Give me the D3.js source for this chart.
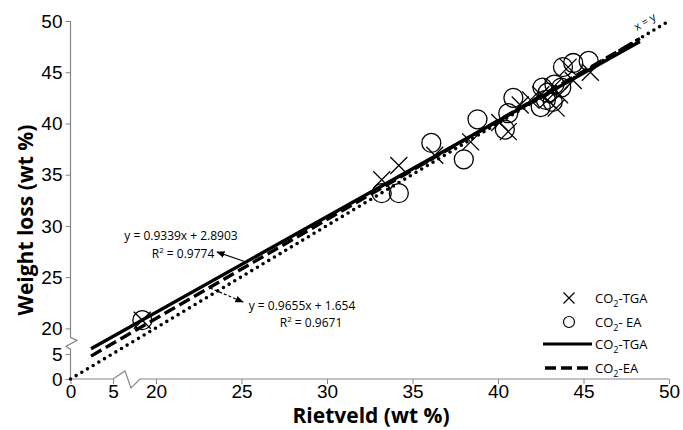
<!DOCTYPE html>
<html>
<head>
<meta charset="utf-8">
<script src="https://cdn.jsdelivr.net/npm/d3@7"></script>
<style>
  body { margin: 0; background: #fff; }
  svg { font-family: "Open Sans", "Noto Sans", sans-serif; }
</style>
</head>
<body>
<div id="chart"></div>
<script>
// tick values (axis is broken between 5 and 17.5 on both axes)
const xTicks = [0, 5, 20, 25, 30, 35, 40, 45, 50];
const yTicks = [0, 5, 20, 25, 30, 35, 40, 45, 50];

// CO2-TGA points (Rietveld, weight loss)
const tgaX = [19.2, 33.2, 34.2, 36.3, 38.4, 40.1, 40.6, 41.3, 41.9, 42.5, 42.9, 43.2, 43.4, 43.6, 44.1, 44.4, 45.4];
const tgaY = [20.8, 34.5, 35.9, 36.9, 38.2, 40.1, 39.2, 41.8, 42.3, 42.8, 42.3, 43.5, 41.5, 42.8, 45.5, 44.2, 45.0];

// CO2-EA points
const eaX = [19.2, 33.2, 34.2, 36.1, 38.0, 38.8, 40.4, 40.6, 40.9, 42.5, 42.6, 42.8, 42.9, 43.2, 43.3, 43.7, 43.8, 44.4, 45.3];
const eaY = [20.8, 33.2, 33.2, 38.1, 36.5, 40.4, 39.4, 41.0, 42.5, 41.6, 43.5, 42.3, 43.0, 42.1, 43.8, 43.5, 45.5, 45.9, 46.1];

// linear fits
const fitNames = ['CO2-TGA', 'CO2-EA'];
const fitSlope = [0.9339, 0.9655];
const fitIntercept = [2.8903, 1.654];
const fitR2 = [0.9774, 0.9671];
const fitFrom = 16.2, fitTo = 48.3;

// x = y reference
const identity = [[0, 0], [50, 50]];

const width = 683, height = 430;
const svg = d3.select('#chart').append('svg')
  .attr('width', width).attr('height', height);

// piecewise scales: 0-5 compressed, 5-17.5 collapsed by the break
const x = d3.scaleLinear().domain([0, 5, 17.5, 50]).range([70.5, 113, 113.25, 669]);
const y = d3.scaleLinear().domain([0, 5, 17.5, 50]).range([379, 354, 354, 21]);
// continuous upper scales, used for the fit lines that run into the break
const xFit = d3.scaleLinear().domain([17.5, 50]).range([113.25, 669]);
const yFit = d3.scaleLinear().domain([17.5, 50]).range([354, 21]);

const axisCol = '#868686';

// axis lines with break marks
const xa = x(0), ya = y(0);
svg.append('path')
  .attr('d', `M${xa},${y(50)}V${y(20) + 9}l6.5,3l-11,6l4.5,3V${ya}`)
  .attr('fill', 'none').attr('stroke', axisCol).attr('stroke-width', 1.2);
svg.append('path')
  .attr('d', `M${xa},${ya}H${x(5)}l12,-8l6,17l9,-9H${x(50)}`)
  .attr('fill', 'none').attr('stroke', axisCol).attr('stroke-width', 1.2);

const yAxis = d3.axisLeft(y).tickValues(yTicks).tickSize(5).tickPadding(3);
const gy = svg.append('g').attr('transform', `translate(${xa},0)`).call(yAxis);
gy.select('.domain').remove();
gy.selectAll('line').attr('stroke', axisCol);
gy.selectAll('text').style('font-size', '19px').attr('fill', '#000');

const xAxis = d3.axisBottom(x).tickValues(xTicks).tickSize(5).tickPadding(1);
const gx = svg.append('g').attr('transform', `translate(0,${ya})`).call(xAxis);
gx.select('.domain').remove();
gx.selectAll('line').attr('stroke', axisCol);
gx.selectAll('text').style('font-size', '19px').attr('fill', '#000');

// axis titles
svg.append('text')
  .attr('x', 371).attr('y', 423)
  .attr('text-anchor', 'middle')
  .style('font-size', '21px').style('font-weight', 'bold')
  .text('Rietveld (wt %)');
svg.append('text')
  .attr('transform', 'translate(33,220) rotate(-90)')
  .attr('text-anchor', 'middle')
  .style('font-size', '21px').style('font-weight', 'bold')
  .text('Weight loss (wt %)');

// x = y dotted line
svg.append('path')
  .datum(identity)
  .attr('d', d3.line().x(d => x(d[0])).y(d => y(d[1])))
  .attr('fill', 'none').attr('stroke', '#000')
  .attr('stroke-width', 3.6).attr('stroke-linecap', 'round')
  .attr('stroke-dasharray', '0,6.6');
svg.append('text')
  .attr('transform', `translate(${x(48.7)},${y(49.6)}) rotate(-31)`)
  .attr('text-anchor', 'middle')
  .style('font-size', '11px')
  .text('x = y');

// fit lines
const fitDash = [null, '12,5'];
fitNames.forEach((n, i) => {
  const pts = [fitFrom, fitTo].map(v => [v, fitSlope[i] * v + fitIntercept[i]]);
  svg.append('path')
    .datum(pts)
    .attr('d', d3.line().x(d => xFit(d[0])).y(d => yFit(d[1])))
    .attr('fill', 'none').attr('stroke', '#000')
    .attr('stroke-width', 3.4)
    .attr('stroke-dasharray', fitDash[i]);
});

// markers
const cross = s => `M${-s},${-s}L${s},${s}M${-s},${s}L${s},${-s}`;
svg.append('g').selectAll('path')
  .data(tgaX.map((v, i) => [v, tgaY[i]]))
  .join('path')
  .attr('transform', d => `translate(${x(d[0])},${y(d[1])})`)
  .attr('d', cross(8.5))
  .attr('stroke', '#000').attr('stroke-width', 1.3).attr('fill', 'none');
svg.append('g').selectAll('circle')
  .data(eaX.map((v, i) => [v, eaY[i]]))
  .join('circle')
  .attr('cx', d => x(d[0])).attr('cy', d => y(d[1]))
  .attr('r', 9.5)
  .attr('stroke', '#000').attr('stroke-width', 1.3).attr('fill', 'none');

// equation annotations
svg.append('defs').append('marker')
  .attr('id', 'head').attr('viewBox', '0 0 10 10')
  .attr('refX', 9).attr('refY', 5)
  .attr('markerWidth', 7).attr('markerHeight', 7)
  .attr('orient', 'auto')
  .append('path').attr('d', 'M0,1L10,5L0,9z').attr('fill', '#000');

const ann = svg.append('g').style('font-size', '12px');
ann.append('text').attr('x', 181).attr('y', 240).attr('text-anchor', 'middle')
  .text(`y = ${fitSlope[0]}x + ${fitIntercept[0]}`);
const r1 = ann.append('text').attr('x', 183).attr('y', 258).attr('text-anchor', 'middle');
r1.append('tspan').text('R');
r1.append('tspan').attr('dy', -5).style('font-size', '8px').text('2');
r1.append('tspan').attr('dy', 5).text(` = ${fitR2[0]}`);

ann.append('text').attr('x', 302).attr('y', 310).attr('text-anchor', 'middle')
  .text(`y = ${fitSlope[1]}x + ${fitIntercept[1]}`);
const r2 = ann.append('text').attr('x', 311).attr('y', 327).attr('text-anchor', 'middle');
r2.append('tspan').text('R');
r2.append('tspan').attr('dy', -5).style('font-size', '8px').text('2');
r2.append('tspan').attr('dy', 5).text(` = ${fitR2[1]}`);

svg.append('line')
  .attr('x1', 246).attr('y1', 262).attr('x2', 217).attr('y2', 252)
  .attr('stroke', '#000').attr('stroke-width', 1.2)
  .attr('marker-end', 'url(#head)');
svg.append('line')
  .attr('x1', 210).attr('y1', 288).attr('x2', 243).attr('y2', 302)
  .attr('stroke', '#000').attr('stroke-width', 1.2)
  .attr('stroke-dasharray', '3,2')
  .attr('marker-end', 'url(#head)');

// legend
const legRows = [298, 322, 344, 368];
const leg = svg.append('g').style('font-size', '13px');
leg.append('path').attr('transform', `translate(569,${legRows[0]})`)
  .attr('d', cross(5.5)).attr('stroke', '#000').attr('stroke-width', 1.2);
leg.append('circle').attr('cx', 569).attr('cy', legRows[1]).attr('r', 5.5)
  .attr('fill', 'none').attr('stroke', '#000').attr('stroke-width', 1.2);
leg.append('line').attr('x1', 543).attr('x2', 592).attr('y1', legRows[2]).attr('y2', legRows[2])
  .attr('stroke', '#000').attr('stroke-width', 3.2);
leg.append('line').attr('x1', 545).attr('x2', 590).attr('y1', legRows[3]).attr('y2', legRows[3])
  .attr('stroke', '#000').attr('stroke-width', 3.5).attr('stroke-dasharray', '11,5');

const legLabels = ['CO2-TGA', 'CO2- EA', 'CO2-TGA', 'CO2-EA'];
legLabels.forEach((t, i) => {
  const tx = leg.append('text').attr('x', 595).attr('y', legRows[i] + 4.5);
  tx.append('tspan').text('CO');
  tx.append('tspan').attr('dy', 4).style('font-size', '9px').text('2');
  tx.append('tspan').attr('dy', -4).text(t.slice(3));
});
</script>
</body>
</html>
